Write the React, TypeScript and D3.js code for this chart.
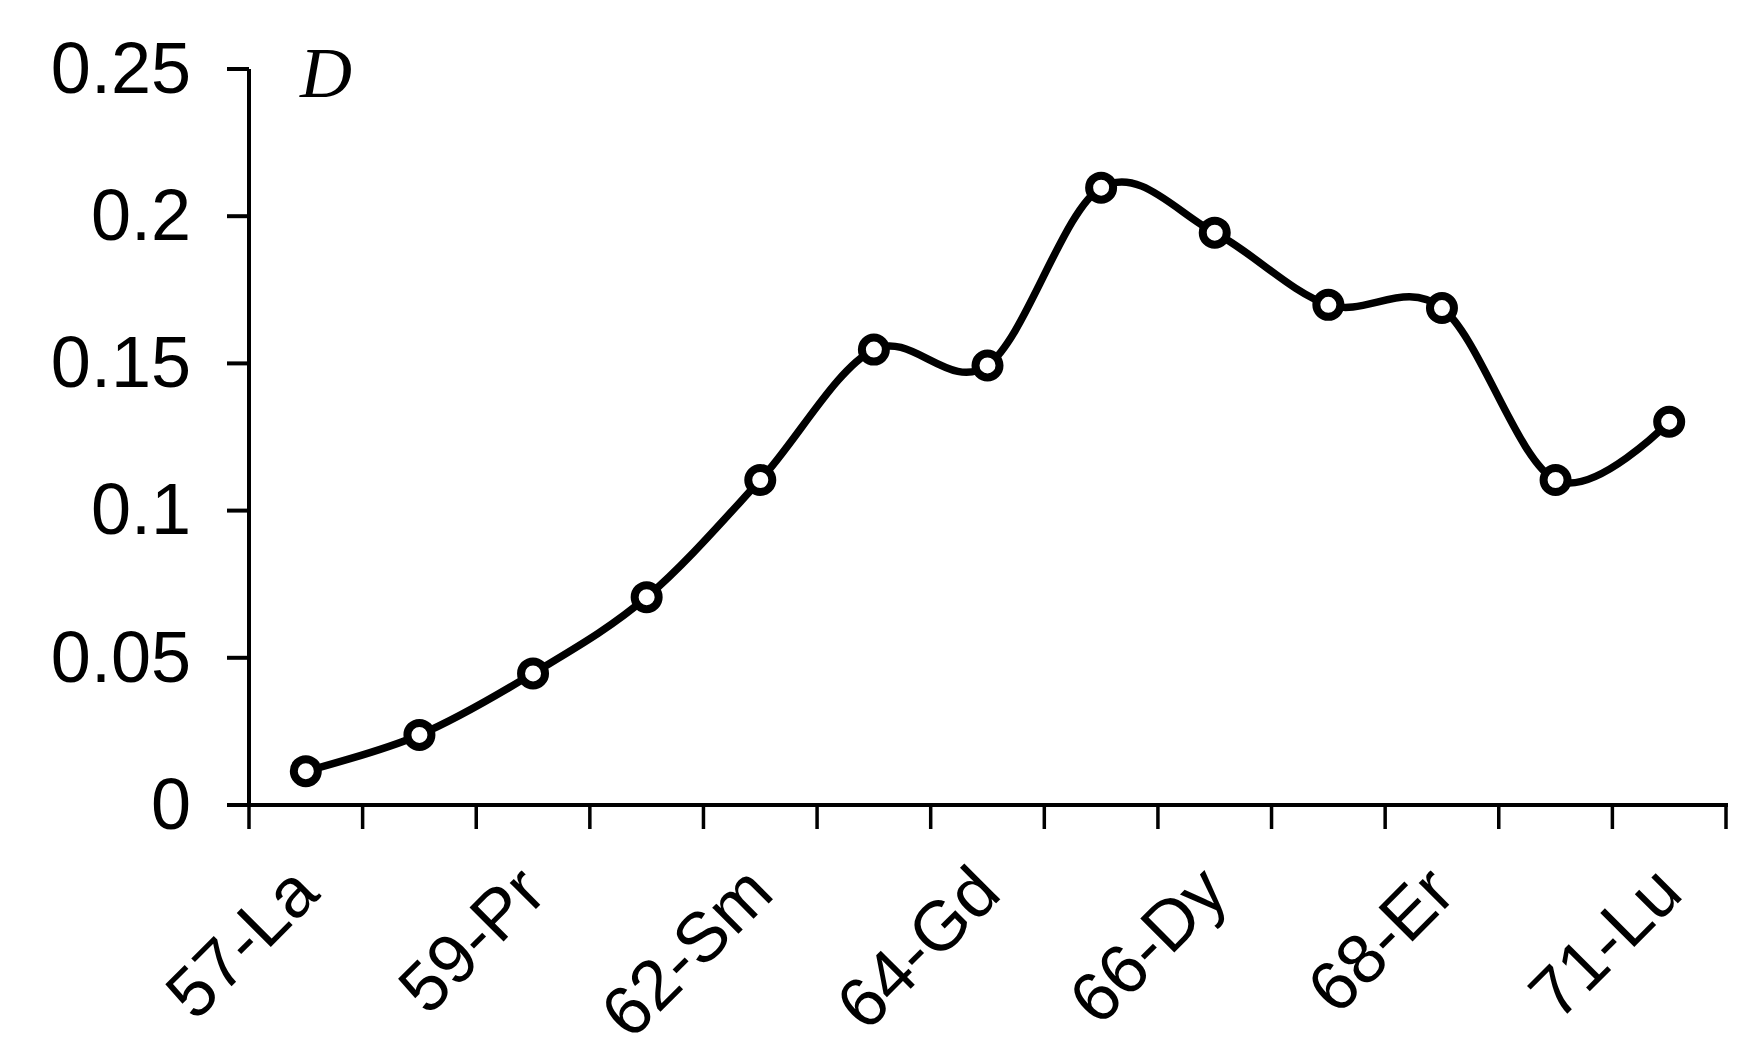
import React from 'react';
import * as d3 from 'd3';

const W = 1763;
const H = 1059;

// element labels along the x axis (only every other one is printed)
const elements = [
	'57-La', '58-Ce', '59-Pr', '60-Nd', '62-Sm', '63-Eu', '64-Gd',
	'65-Tb', '66-Dy', '67-Ho', '68-Er', '69-Tm', '71-Lu',
];
const dValues = [
	0.0115, 0.0238, 0.0447, 0.0706, 0.1104, 0.1547, 0.1493,
	0.2097, 0.1944, 0.1699, 0.1688, 0.1104, 0.1302,
];
const yTicks = [0, 0.05, 0.1, 0.15, 0.2, 0.25];
const yTickLabels = ['0', '0.05', '0.1', '0.15', '0.2', '0.25'];

const left = 249;
const right = 1726;
const top = 69;
const bottom = 805;

const x = d3.scaleBand<string>().domain(elements).range([left, right]).paddingInner(0);
const y = d3.scaleLinear().domain([0, 0.25]).range([bottom, top]);

const line = d3
	.line<number>()
	.x((_, i) => (x(elements[i]) as number) + x.bandwidth() / 2)
	.y((d) => y(d))
	.curve(d3.curveCardinal.tension(0));

const font = '"Liberation Sans", Arial, sans-serif';

const App = () => {
	const bw = x.bandwidth();
	const boundaries = d3.range(elements.length + 1).map((i) => left + i * bw);

	return (
		<svg width={W} height={H} style={{ position: 'absolute', left: 0, top: 0, display: 'block', background: '#fff' }}>
			{/* y axis */}
			<line x1={left} x2={left} y1={top} y2={bottom} stroke="#000" strokeWidth={4} />
			{yTicks.map((t, i) => (
				<g key={t}>
					<line x1={left - 22} x2={left} y1={y(t)} y2={y(t)} stroke="#000" strokeWidth={4} />
					<text x={191} y={y(t)} dy="0.33em" textAnchor="end" fontFamily={font} fontSize={72} fill="#000">
						{yTickLabels[i]}
					</text>
				</g>
			))}
			<text x={300} y={97} fontFamily='"Liberation Serif", "Times New Roman", serif' fontStyle="italic" fontSize={72} fill="#000">
				D
			</text>

			{/* x axis */}
			<line x1={left - 2} x2={right + 2} y1={bottom} y2={bottom} stroke="#000" strokeWidth={4} />
			{boundaries.map((bx) => (
				<line key={bx} x1={bx} x2={bx} y1={bottom} y2={bottom + 24} stroke="#000" strokeWidth={3.5} />
			))}
			{elements.map((el, i) => (i % 2 === 0 ? (
				<text
					key={el}
					transform={`translate(${(x(el) as number) + bw / 2 + 16},${bottom + 91}) rotate(-45)`}
					textAnchor="end"
					fontFamily={font}
					fontSize={70}
					fill="#000"
				>
					{el}
				</text>
			) : null))}

			{/* data */}
			<path d={line(dValues) ?? ''} fill="none" stroke="#000" strokeWidth={7.5} />
			{dValues.map((v, i) => (
				<circle
					key={elements[i]}
					cx={(x(elements[i]) as number) + bw / 2}
					cy={y(v)}
					r={12}
					fill="#fff"
					stroke="#000"
					strokeWidth={8}
				/>
			))}
		</svg>
	);
};

export default App;
